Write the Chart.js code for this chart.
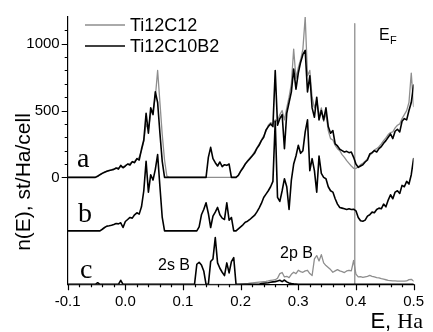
<!DOCTYPE html>
<html>
<head>
<meta charset="utf-8">
<script src="https://cdn.jsdelivr.net/npm/chart.js@4.4.1/dist/chart.umd.min.js"></script>
<style>html,body{margin:0;background:#fff}#wrap{width:433px;height:332px}</style>
</head>
<body>
<div id="wrap"><canvas id="dos" width="433" height="332"></canvas></div>
<script>
'use strict';
const BLACK='#000',GREY='#8e8e8e';
const SANS="'Liberation Sans', Arial, sans-serif",SERIF="'Liberation Serif', 'Times New Roman', serif";

// energy grid: -0.1 .. 0.5 Ha, step 0.004 (151 points)
const E_MIN=-0.1,E_STEP=0.004;
// panel offsets (st/Ha/cell)
const OFF_A=0,OFF_B=-400,OFF_C=-800;
const EF_E=0.398,EF_TOP=1150;
const X_TICKS=[-0.1,0,0.1,0.2,0.3,0.4,0.5];
const Y_TICKS=[0,500,1000];
const X_MINOR=0.02,Y_MINOR=100,Y_MINOR_MAX=1100;

// panel a, Ti12C10B2 (black)
const A_B2=[0,0,0,0,0,0,0,0,0,0,0,0,0,
  8,20,30,38,45,52,55,60,70,62,90,72,
  85,100,92,118,110,140,130,210,280,480,330,
  520,470,640,560,330,120,
  0,0,0,0,0,0,0,0,0,0,0,0,0,0,0,0,0,0,0,
  150,225,140,110,85,115,80,95,90,100,0,0,0,
  15,45,70,100,120,140,160,180,215,240,275,300,355,380,400,380,
  800,390,440,470,215,480,560,640,810,660,780,860,920,950,640,760,
  520,450,600,430,500,430,520,380,330,350,250,235,210,200,190,
  195,185,190,150,100,75,85,95,115,130,175,185,200,190,215,
  230,255,275,300,325,290,345,360,340,420,440,430,500,560,690];
// panel a, Ti12C12 (grey)
const A_C12=[0,0,0,0,0,0,0,0,0,0,0,0,0,
  12,22,32,40,46,50,58,62,68,72,80,78,
  90,98,105,115,120,135,150,200,270,400,360,
  480,500,600,800,560,320,130,10,
  0,0,0,0,0,0,0,0,0,0,0,0,0,0,0,0,0,0,0,0,0,0,0,0,0,0,0,0,0,0,
  15,50,75,100,125,145,165,190,220,250,280,310,345,390,410,400,
  430,420,470,500,430,520,600,700,960,740,820,880,960,1200,760,800,
  600,520,580,460,520,420,480,350,290,280,240,215,200,170,150,
  125,105,85,68,66,80,95,105,120,140,165,180,205,215,230,
  250,275,295,320,335,340,370,390,400,440,470,500,560,780,530];
// panel b (black)
const B_B2=[0,0,0,0,0,0,0,0,0,0,0,0,0,0,0,
  12,25,35,38,42,48,55,52,60,25,
  70,85,100,95,120,135,125,180,300,520,290,
  420,380,460,570,330,100,
  0,0,0,0,0,0,0,0,0,0,0,0,0,0,0,
  30,120,160,210,130,25,110,140,175,120,95,85,210,80,100,0,0,
  15,30,45,65,72,85,100,115,140,170,205,250,275,300,330,370,
  820,250,220,300,390,330,160,380,500,560,640,580,600,740,830,450,
  540,450,290,560,430,400,390,330,300,290,240,200,175,170,165,
  160,165,160,162,150,100,75,72,80,110,120,140,135,160,170,
  165,200,180,230,270,240,290,300,280,340,330,370,350,420,540];
// panel c, 2s B (black)
const C_2S=[0,0,0,0,0,0,0,0,0,0,0,0,0,
  12,
  0,0,0,0,0,0,0,0,0,
  30,0,
  0,0,0,0,0,0,0,0,0,0,0,0,0,0,0,0,0,0,0,0,0,0,0,0,0,0,0,0,0,0,0,
  150,165,145,100,0,0,170,190,350,160,120,90,65,160,85,170,200,
  0,0,0,0,0,0,0,0,0,0,0,
  5,8,10,12,15,18,20,25,30,20,32,18,10,5,3,2,0,
  0,0,0,0,0,0,0,0,0,0,0,0,0,0,0,0,0,0,0,0,0,0,0,0,0,
  0,0,0,0,0,0,0,0,0,0,0,0,0,0,0,0,0,0,0,0,0,0,0,0,0];
// panel c, 2p B (grey)
const C_2P=[0,0,0,0,0,0,0,0,0,0,0,0,0,0,0,0,0,0,0,0,0,0,0,0,0,
  0,0,0,0,0,0,0,0,0,0,0,0,0,0,0,0,0,0,0,0,0,0,0,0,0,
  0,0,0,0,0,0,0,0,0,0,0,0,0,0,0,0,0,0,0,0,0,0,0,0,0,
  2,3,4,5,8,10,12,14,16,18,20,22,25,30,32,34,
  45,80,88,55,60,50,75,90,80,105,95,90,100,105,80,
  66,190,215,175,222,160,140,125,110,90,100,110,100,95,88,
  100,105,100,178,76,56,58,52,56,60,66,60,55,50,48,
  42,38,34,30,28,26,25,24,23,24,23,25,35,37,24];

const energy=A_B2.map((_,i)=>+(E_MIN+i*E_STEP).toFixed(3));
const pts=(arr,off)=>arr.map((v,i)=>({x:energy[i],y:v+off}));
const line=(arr,off,color,w)=>({data:pts(arr,off),borderColor:color,borderWidth:w,pointRadius:0,fill:false,tension:0});

const annotate={
  id:'annotate',
  afterDraw(chart){
    const {ctx,scales:{x,y}}=chart;
    ctx.save();
    // tick marks, major and minor
    ctx.strokeStyle=BLACK;ctx.lineWidth=1.2;ctx.beginPath();
    for(let k=0;k<=30;k++){
      const v=E_MIN+k*X_MINOR,px=Math.round(x.getPixelForValue(v))+0.5,len=k%5===0?6:3;
      ctx.moveTo(px,y.bottom);ctx.lineTo(px,y.bottom+len);
    }
    for(let v=0;v<=Y_MINOR_MAX;v+=Y_MINOR){
      const py=Math.round(y.getPixelForValue(v))+0.5,len=v%500===0?6:3;
      ctx.moveTo(x.left,py);ctx.lineTo(x.left-len,py);
    }
    ctx.stroke();
    ctx.fillStyle=BLACK;ctx.textBaseline='alphabetic';ctx.textAlign='left';
    // panel letters
    ctx.font='28px '+SERIF;
    ctx.fillText('a',77,167);ctx.fillText('b',78,222);ctx.fillText('c',80,278);
    ctx.font='16px '+SANS;
    ctx.fillText('2s B',158,270);ctx.fillText('2p B',280,258);
    ctx.fillText('E',379,40);
    ctx.font='11px '+SANS;ctx.fillText('F',390,44);
    // legend
    ctx.lineWidth=1.4;
    ctx.strokeStyle=GREY;ctx.beginPath();ctx.moveTo(85,25);ctx.lineTo(125,25);ctx.stroke();
    ctx.strokeStyle=BLACK;ctx.beginPath();ctx.moveTo(85,46);ctx.lineTo(125,46);ctx.stroke();
    ctx.font='18px '+SANS;
    ctx.fillText('Ti12C12',130,31);ctx.fillText('Ti12C10B2',130,52);
    // axis titles
    ctx.textAlign='right';ctx.font='22px '+SERIF;ctx.fillText('Ha',423,328);
    const hw=ctx.measureText('Ha').width;
    ctx.font='22px '+SANS;ctx.fillText('E, ',423-hw,328);
    ctx.font='21px '+SANS;
    ctx.translate(30,182);ctx.rotate(-Math.PI/2);ctx.textAlign='center';
    ctx.fillText('n(E), st/Ha/cell',0,0);
    ctx.restore();
  }
};

new Chart(document.getElementById('dos'),{
  type:'line',
  data:{datasets:[
    line(A_B2,OFF_A,BLACK,1.6),
    line(B_B2,OFF_B,BLACK,1.6),
    line(C_2S,OFF_C,BLACK,1.6),
    line(A_C12,OFF_A,GREY,1.3),
    line(C_2P,OFF_C,GREY,1.3),
    {data:[{x:EF_E,y:EF_TOP},{x:EF_E,y:OFF_C}],borderColor:GREY,borderWidth:1.3,pointRadius:0,fill:false}
  ]},
  options:{
    responsive:false,animation:false,events:[],
    layout:{padding:{top:13,right:10,left:0,bottom:0}},
    plugins:{legend:{display:false},tooltip:{enabled:false}},
    elements:{line:{borderJoinStyle:'round',borderCapStyle:'round'}},
    scales:{
      x:{type:'linear',min:-0.1,max:0.5,
        afterFit:s=>{s.height=47.7;},
        afterBuildTicks:s=>{s.ticks=X_TICKS.map(v=>({value:v}));},
        grid:{display:false,drawTicks:false},border:{color:BLACK,width:1.2},
        ticks:{padding:9,color:BLACK,autoSkip:false,maxRotation:0,font:{family:SANS,size:15},callback:v=>v.toFixed(1)}},
      y:{type:'linear',min:OFF_C,max:1200,
        afterFit:s=>{s.width=67.7;},
        afterBuildTicks:s=>{s.ticks=Y_TICKS.map(v=>({value:v}));},
        grid:{display:false,drawTicks:false},border:{color:BLACK,width:1.2},
        ticks:{padding:8,color:BLACK,font:{family:SANS,size:15},callback:v=>String(v)}}
    }
  },
  plugins:[annotate]
});
</script>
</body>
</html>
